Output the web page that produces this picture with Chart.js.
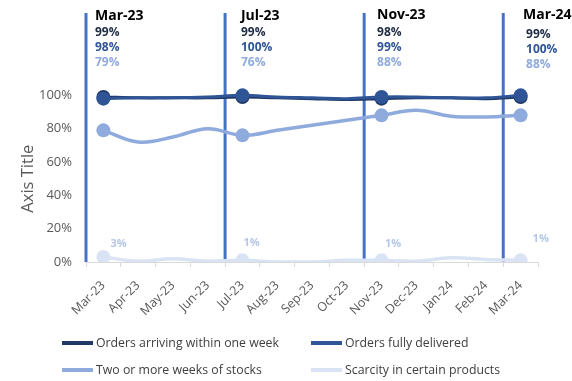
<!DOCTYPE html>
<html>
<head>
<meta charset="utf-8">
<script src="https://cdn.jsdelivr.net/npm/chart.js@4.4.1/dist/chart.umd.min.js"></script>
<style>
  html, body { margin: 0; padding: 0; background: #ffffff; }
  #wrap { width: 572px; height: 381px; position: relative; }
</style>
</head>
<body>
<div id="wrap"><canvas id="c" width="572" height="381"></canvas></div>
<script>
// Monthly survey results, share of respondents (%)
const months = ['Mar-23', 'Apr-23', 'May-23', 'Jun-23', 'Jul-23', 'Aug-23', 'Sep-23',
                'Oct-23', 'Nov-23', 'Dec-23', 'Jan-24', 'Feb-24', 'Mar-24'];
const arrivingWithinWeek = [99, 98.5, 98.5, 98.5, 99, 98.5, 98, 97.5, 98, 98.5, 98.5, 98, 99];
const fullyDelivered     = [98, 98.5, 98.5, 99, 100, 99, 98.5, 98, 99, 99, 98.5, 98.5, 100];
const twoWeeksOfStock    = [79, 72, 75, 80, 76, 79, 82, 85, 88, 91, 87.5, 87, 88];
const scarcity           = [3, 0.5, 2, 0.5, 1, 0, 0, 1, 1, 0.5, 2.5, 1.5, 1];
const yTicks = [0, 20, 40, 60, 80, 100];
// Months that get a marker, a divider and a call-out
const keyMonths = [0, 4, 8, 12];

const FONT = "'Open Sans', 'Noto Sans', sans-serif";
const COLORS = ['#203864', '#2F5597', '#8FAADC', '#DAE3F3'];
const VALUE_TEXT = ['#1F2A44', '#2F5597', '#8FAADC'];

// hand placement of each call-out block (offsets in px)
const calloutPlace = [
  { dx: -8.4, dy: 0, vdx: 0, vdy: 0, sdx: 7, sdy: -13.5 },
  { dx: -1.5, dy: 0, vdx: 0, vdy: 0, sdx: 1, sdy: -17.5 },
  { dx: -4.5, dy: -0.5, vdx: 0, vdy: 0, sdx: 3.5, sdy: -16.5 },
  { dx: 2.4, dy: -1, vdx: 3, vdy: 2, sdx: 12, sdy: -21 }
];

const markerRadius = ctx => keyMonths.includes(ctx.dataIndex) ? 7 : 0;

function series(label, data, color, width, order) {
  return {
    label, data, order,
    borderColor: color, backgroundColor: color,
    borderWidth: width, tension: 0.4,
    pointRadius: markerRadius, pointHoverRadius: markerRadius,
    pointBorderWidth: 0, pointBackgroundColor: color
  };
}

function noScalePadding(s) {
  s.paddingTop = 0; s.paddingBottom = 0; s.paddingLeft = 0; s.paddingRight = 0;
}

const dividersAndNotes = {
  id: 'dividersAndNotes',
  beforeDatasetsDraw(chart) {
    const { ctx, chartArea, scales: { x, y } } = chart;
    ctx.save();
    ctx.strokeStyle = '#4472C4';
    ctx.lineWidth = 3;
    keyMonths.forEach(i => {
      const px = x.getPixelForValue(i) - (x.getPixelForValue(1) - x.getPixelForValue(0)) / 2;
      ctx.beginPath();
      ctx.moveTo(px, chartArea.top + 1);
      ctx.lineTo(px, y.getPixelForValue(0));
      ctx.stroke();
    });
    ctx.restore();
  },
  afterDraw(chart) {
    const { ctx, scales: { x, y } } = chart;
    const sets = chart.data.datasets;
    ctx.save();
    ctx.textBaseline = 'middle';
    ctx.textAlign = 'left';
    keyMonths.forEach((i, k) => {
      const p = calloutPlace[k];
      const px = x.getPixelForValue(i) + p.dx;
      ctx.fillStyle = '#000000';
      ctx.font = `bold 14px ${FONT}`;
      ctx.fillText(months[i], px, 16 + p.dy);
      ctx.font = `bold 12px ${FONT}`;
      for (let s = 0; s < 3; s++) {
        ctx.fillStyle = VALUE_TEXT[s];
        ctx.fillText(sets[s].data[i] + '%', px + p.vdx, 32.5 + s * 15 + p.vdy);
      }
      // value tag beside the scarcity marker
      ctx.fillStyle = '#B4C7E7';
      ctx.font = `bold 11px ${FONT}`;
      ctx.fillText(sets[3].data[i] + '%', x.getPixelForValue(i) + p.sdx, y.getPixelForValue(sets[3].data[i]) + p.sdy);
    });

    // y-axis title, centred on the 0–100% span
    ctx.save();
    ctx.translate(28, (y.getPixelForValue(0) + y.getPixelForValue(100)) / 2);
    ctx.rotate(-Math.PI / 2);
    ctx.textAlign = 'center';
    ctx.fillStyle = '#595959';
    ctx.font = `16.5px ${FONT}`;
    ctx.fillText('Axis Title', 0, 0);
    ctx.restore();

    // two-column legend
    const cols = [62, 311], rows = [343, 370];
    sets.forEach((d, k) => {
      const lx = cols[k % 2], ly = rows[Math.floor(k / 2)];
      ctx.strokeStyle = d.borderColor;
      ctx.lineWidth = 4;
      ctx.beginPath();
      ctx.moveTo(lx, ly);
      ctx.lineTo(lx + 31, ly);
      ctx.stroke();
      ctx.fillStyle = '#404040';
      ctx.font = `12.3px ${FONT}`;
      ctx.textAlign = 'left';
      ctx.fillText(d.label, lx + 34, ly);
    });
    ctx.restore();
  }
};

new Chart(document.getElementById('c'), {
  type: 'line',
  data: {
    labels: months,
    datasets: [
      series('Orders arriving within one week', arrivingWithinWeek, COLORS[0], 3, 1),
      series('Orders fully delivered', fullyDelivered, COLORS[1], 3, 0),
      series('Two or more weeks of stocks', twoWeeksOfStock, COLORS[2], 3.5, 2),
      series('Scarcity in certain products', scarcity, COLORS[3], 3.5, 3)
    ]
  },
  options: {
    responsive: false,
    devicePixelRatio: 1,
    animation: false,
    layout: { padding: { top: 12, right: 34, left: 0, bottom: 0 } },
    plugins: { legend: { display: false }, tooltip: { enabled: false } },
    scales: {
      x: {
        type: 'category',
        offset: true,
        grid: { display: true, drawOnChartArea: false, offset: true, tickLength: 5, color: '#D9D9D9' },
        border: { display: true, color: '#D9D9D9', width: 1 },
        ticks: { minRotation: 45, maxRotation: 45, color: '#595959', padding: 11,
                 font: { family: FONT, size: 12.5 } },
        afterFit(s) { s.height = 119; noScalePadding(s); }
      },
      y: {
        min: 0, max: 150,
        afterBuildTicks(s) { s.ticks = yTicks.map(v => ({ value: v })); },
        grid: { display: false, drawTicks: false },
        border: { display: false },
        ticks: { color: '#595959', padding: 14, font: { family: FONT, size: 13 },
                 callback: v => v + '%' },
        afterFit(s) { s.width = 86; noScalePadding(s); }
      }
    }
  },
  plugins: [dividersAndNotes]
});
</script>
</body>
</html>
